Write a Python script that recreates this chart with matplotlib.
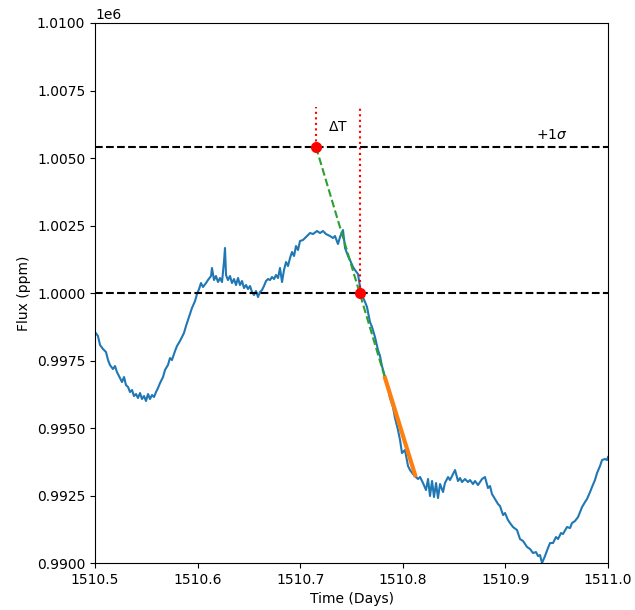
import matplotlib
matplotlib.use("Agg")
import matplotlib.pyplot as plt

# Light curve samples: time (days) and flux (ppm)
time = [
    1510.5000, 1510.5029, 1510.5049, 1510.5078, 1510.5107, 1510.5127, 1510.5146, 1510.5175,
    1510.5195, 1510.5214, 1510.5244, 1510.5263, 1510.5283, 1510.5302, 1510.5322, 1510.5341,
    1510.5361, 1510.5380, 1510.5400, 1510.5419, 1510.5439, 1510.5458, 1510.5478, 1510.5497,
    1510.5517, 1510.5536, 1510.5556, 1510.5575, 1510.5595, 1510.5614, 1510.5634, 1510.5663,
    1510.5682, 1510.5711, 1510.5731, 1510.5750, 1510.5780, 1510.5799, 1510.5828, 1510.5848,
    1510.5867, 1510.5887, 1510.5906, 1510.5926, 1510.5945, 1510.5975, 1510.5994, 1510.6014,
    1510.6033, 1510.6053, 1510.6082, 1510.6101, 1510.6131, 1510.6140, 1510.6160, 1510.6179,
    1510.6199, 1510.6218, 1510.6238, 1510.6257, 1510.6267, 1510.6277, 1510.6296, 1510.6316,
    1510.6335, 1510.6355, 1510.6374, 1510.6394, 1510.6413, 1510.6433, 1510.6452, 1510.6472,
    1510.6491, 1510.6511, 1510.6530, 1510.6550, 1510.6569, 1510.6589, 1510.6608, 1510.6628,
    1510.6647, 1510.6667, 1510.6686, 1510.6706, 1510.6725, 1510.6745, 1510.6764, 1510.6784,
    1510.6803, 1510.6823, 1510.6842, 1510.6862, 1510.6881, 1510.6901, 1510.6920, 1510.6940,
    1510.6959, 1510.6979, 1510.6998, 1510.7027, 1510.7057, 1510.7096, 1510.7125, 1510.7164,
    1510.7193, 1510.7222, 1510.7251, 1510.7290, 1510.7320, 1510.7339, 1510.7368, 1510.7388,
    1510.7417, 1510.7437, 1510.7466, 1510.7485, 1510.7515, 1510.7534, 1510.7563, 1510.7583,
    1510.7602, 1510.7632, 1510.7651, 1510.7680, 1510.7700, 1510.7729, 1510.7758, 1510.7778,
    1510.7797, 1510.7827, 1510.7856, 1510.7875, 1510.7904, 1510.7924, 1510.7953, 1510.7973,
    1510.7992, 1510.8021, 1510.8051, 1510.8070, 1510.8099, 1510.8119, 1510.8148, 1510.8168,
    1510.8197, 1510.8226, 1510.8246, 1510.8265, 1510.8285, 1510.8304, 1510.8324, 1510.8343,
    1510.8363, 1510.8392, 1510.8411, 1510.8441, 1510.8460, 1510.8480, 1510.8509, 1510.8538,
    1510.8558, 1510.8577, 1510.8606, 1510.8635, 1510.8655, 1510.8684, 1510.8704, 1510.8733,
    1510.8752, 1510.8772, 1510.8801, 1510.8830, 1510.8850, 1510.8869, 1510.8899, 1510.8928,
    1510.8947, 1510.8977, 1510.8996, 1510.9025, 1510.9045, 1510.9074, 1510.9113, 1510.9142,
    1510.9172, 1510.9211, 1510.9240, 1510.9269, 1510.9298, 1510.9318, 1510.9337, 1510.9357,
    1510.9386, 1510.9415, 1510.9435, 1510.9464, 1510.9493, 1510.9513, 1510.9542, 1510.9561,
    1510.9600, 1510.9630, 1510.9649, 1510.9678, 1510.9708, 1510.9727, 1510.9747, 1510.9776,
    1510.9795, 1510.9825, 1510.9844, 1510.9873, 1510.9893, 1510.9922, 1510.9942, 1510.9971,
    1510.9990, 1511.0000,
]
flux = [
    998555, 998407, 998074, 997926, 997815, 997518, 997333, 997185,
    997296, 997074, 996852, 996703, 996889, 996592, 996518, 996333,
    996407, 996185, 996259, 996111, 996296, 996074, 996185, 996000,
    996259, 996074, 996222, 996148, 996333, 996481, 996667, 996889,
    997148, 997333, 997592, 997518, 997852, 998037, 998222, 998370,
    998518, 998778, 999000, 999222, 999444, 999704, 999963, 1000148,
    1000370, 1000222, 1000370, 1000481, 1000630, 1000926, 1000481, 1000630,
    1000407, 1000556, 1000407, 1001148, 1001667, 1000667, 1000481, 1000630,
    1000370, 1000519, 1000296, 1000556, 1000296, 1000444, 1000185, 1000296,
    1000148, 1000259, 1000037, 999926, 1000074, 999852, 1000037, 1000111,
    1000259, 1000444, 1000519, 1000481, 1000593, 1000519, 1000667, 1000556,
    1000926, 1000407, 1000852, 1001148, 1001000, 1001296, 1001519, 1001370,
    1001741, 1001593, 1001926, 1001963, 1002074, 1002222, 1002185, 1002296,
    1002222, 1002296, 1002185, 1002111, 1002037, 1002111, 1001815, 1002074,
    1002333, 1001667, 1001370, 1001222, 1000963, 1000852, 1000704, 1000222,
    999926, 999667, 999481, 998926, 998741, 998370, 997889, 997667,
    997296, 996889, 996481, 996111, 995778, 995370, 994926, 994556,
    994074, 994185, 993593, 993444, 993296, 993222, 993111, 993185,
    992963, 992704, 993111, 992481, 993037, 992444, 992963, 992407,
    992926, 992630, 992963, 993185, 993074, 993222, 993444, 993037,
    993148, 993000, 993111, 993000, 993074, 992926, 993037, 992889,
    993000, 993111, 993185, 992778, 992852, 992556, 992370, 992185,
    992111, 991778, 991852, 991593, 991481, 991333, 991222, 990889,
    990815, 990593, 990519, 990370, 990407, 990259, 990296, 990000,
    990259, 990556, 990741, 990741, 990963, 990889, 991111, 991074,
    991333, 991296, 991481, 991556, 991704, 991889, 992074, 992259,
    992370, 992630, 992815, 993074, 993333, 993593, 993815, 993852,
    993815, 993926,
]

# Reference levels
baseline = 1000000
sigma_level = 1005407

# Crossing points of the extrapolated slope
t_sigma = 1510.7154
t_base = 1510.7583
marker_top = 1006900

# Extrapolated ingress slope and fitted segment
slope_t = [1510.7154, 1510.7827]
slope_f = [1005407, 996852]
fit_t = [1510.7827, 1510.8120]
fit_f = [996852, 993259]

fig = plt.figure(figsize=(6.35, 6.1), dpi=100)
ax = fig.add_axes([0.1496, 0.077, 0.8079, 0.8853])

ax.plot(time, flux, color="tab:blue", lw=1.5)
ax.axhline(baseline, color="black", ls="--", lw=1.5)
ax.axhline(sigma_level, color="black", ls="--", lw=1.5)

ax.plot([t_sigma, t_sigma], [sigma_level, marker_top], color="red", ls=":", lw=1.5)
ax.plot([t_base, t_base], [baseline, marker_top], color="red", ls=":", lw=1.5)

ax.plot(slope_t, slope_f, color="tab:green", ls="--", lw=1.5)
ax.plot(fit_t, fit_f, color="tab:orange", lw=3)

ax.plot([t_sigma, t_base], [sigma_level, baseline], "o", color="red", ms=7, ls="none")

ax.text((t_sigma + t_base) / 2, 1006150, r"$\Delta$T", ha="center", va="center", fontsize=10)
ax.text(1510.945, 1005850, r"+1$\sigma$", ha="center", va="center", fontsize=10)

ax.set_xlim(1510.5, 1511.0)
ax.set_ylim(990000, 1010000)
ax.set_xlabel("Time (Days)")
ax.set_ylabel("Flux (ppm)")

fig.savefig("out.png", dpi=100)
